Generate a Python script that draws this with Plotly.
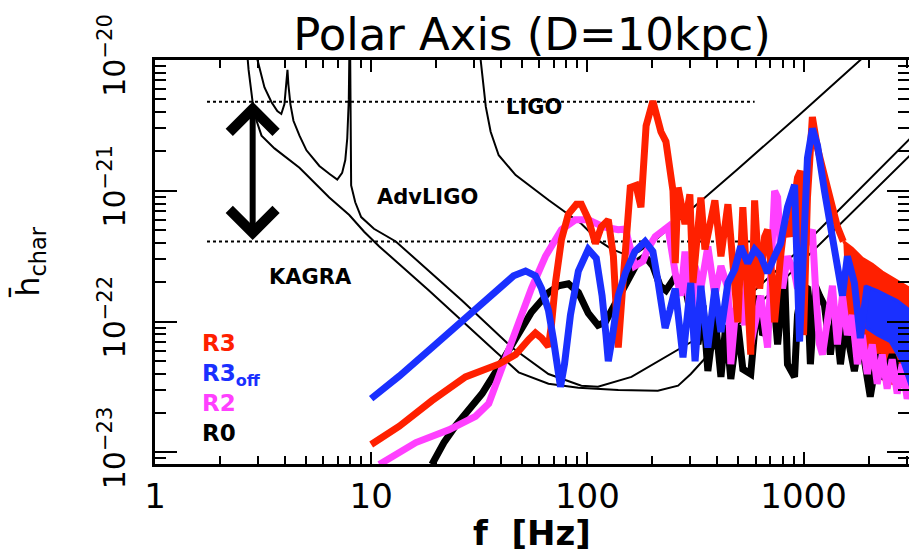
import math
import plotly.graph_objects as go

# ---------------- data ----------------
# Detector sensitivity curves
ligo_f = [31.5, 32.1, 33.9, 35.7, 38.9, 46.6, 66.1, 93.8, 112, 129, 147, 172, 206, 263, 350, 497, 938, 1832, 2193]
ligo_h = [1.68e-20, 1.0e-20, 4.4e-21, 2.83e-21, 1.87e-21, 1.32e-21, 8.5e-22, 5.6e-22, 4.2e-22, 3.6e-22,
          3.3e-22, 3.4e-22, 4.2e-22, 5.9e-22, 8.9e-22, 1.47e-21, 3.7e-21, 1.0e-20, 1.32e-20]

kagra_f = [2.65, 2.71, 2.83, 2.95, 3.11, 3.57, 4.66, 6.40, 7.92, 9.28, 10.9, 18.5, 37.7, 48.1, 66.1, 90.9,
           139, 212, 263, 301, 389, 614, 1161, 3113, 3535]
kagra_h = [1.3e-20, 8.4e-21, 4.75e-21, 3.43e-21, 2.64e-21, 2.11e-21, 1.5e-21, 8.9e-22, 6.53e-22, 4.87e-22,
           3.76e-22, 1.73e-22, 5.9e-23, 4.1e-23, 3.35e-23, 3.12e-23, 3.0e-23, 2.96e-23, 3.24e-23, 3.98e-23,
           6.34e-23, 1.33e-22, 3.76e-22, 1.87e-21, 2.3e-21]

advligo_f = [2.92, 2.98, 3.21, 3.46, 3.68, 3.84, 3.97, 4.06, 4.10, 4.14, 4.23, 4.37, 4.66, 5.02, 5.76,
             6.40, 6.97, 7.34, 7.59, 7.75, 7.88, 7.92, 7.96, 8.0, 8.08, 8.44, 8.99, 10.3, 13.0, 18.5,
             26.3, 44.8, 66.1, 93.8, 112, 160, 271, 325, 497, 938, 3113, 3535]
advligo_h = [1.41e-20, 1.0e-20, 6.17e-21, 4.76e-21, 4.07e-21, 3.87e-21, 4.6e-21, 6.5e-21, 8.4e-21, 6.5e-21,
             4.6e-21, 3.43e-21, 2.64e-21, 2.04e-21, 1.55e-21, 1.35e-21, 1.22e-21, 1.37e-21, 1.72e-21,
             2.51e-21, 5.0e-21, 1.0e-20, 1.41e-20, 1.0e-20, 1.1e-21, 8.17e-22, 6.3e-22, 5.13e-22, 4.1e-22,
             2.44e-22, 1.45e-22, 6.34e-23, 3.98e-23, 3.24e-23, 3.18e-23, 3.78e-23, 6.34e-23, 7.5e-23,
             1.33e-22, 3.44e-22, 2.51e-21, 3.09e-21]

# Signal spectra
r0_f = [19.1, 21.7, 24.5, 28.3, 32.6, 38.9, 46.6, 55.1, 66.1, 73.5, 81.7, 90.9, 101, 112, 121, 132, 150,
        172, 185, 201, 217, 231, 255, 283, 308, 325, 343, 361, 389, 415, 437, 461, 497, 524, 570, 614,
        647, 682, 720, 759, 817, 843, 909, 938, 989, 1043, 1076, 1135, 1186, 1250, 1331, 1403, 1482,
        1562, 1719, 1832, 2036, 2193, 2362, 2572, 2860, 3113]
r0_h = [8.1e-24, 1.19e-23, 1.59e-23, 2.17e-23, 2.82e-23, 4.49e-23, 7.5e-23, 1.18e-22, 1.67e-22, 1.88e-22,
        1.95e-22, 1.67e-22, 1.16e-22, 9.4e-23, 9.9e-23, 1.29e-22, 1.88e-22, 2.9e-22, 3.16e-22, 2.66e-22,
        1.88e-22, 1.73e-22, 2.2e-22, 1.88e-22, 9.4e-23, 6.7e-23, 1.33e-22, 4.19e-23, 1.12e-22, 3.78e-23,
        9.4e-23, 3.65e-23, 9.4e-23, 4.34e-23, 3.98e-23, 1.58e-22, 7.9e-23, 8.95e-23, 1.88e-22, 6.7e-23,
        2.36e-22, 4.73e-23, 3.78e-23, 1.12e-22, 1.88e-22, 1.79e-22, 4.73e-23, 1.88e-22, 1.58e-22,
        1.33e-22, 5.6e-23, 1.12e-22, 4.73e-23, 9.4e-23, 4.19e-23, 7.9e-23, 2.67e-23, 5.6e-23, 3.65e-23,
        5.6e-23, 3.35e-23, 3.98e-23]

r2_f = [10.9, 13.5, 16.1, 22.9, 30.4, 35.0, 38.9, 46.6, 55.1, 64.0, 68.2, 75.9, 88.0, 101, 119, 139, 150,
        166, 181, 191, 206, 236, 255, 271, 283, 301, 315, 335, 361, 389, 415, 447, 461, 497, 535, 552,
        570, 594, 634, 682, 720, 735, 759, 800, 843, 909, 938, 989, 1043, 1099, 1135, 1186, 1224, 1291,
        1361, 1435, 1514, 1596, 1683, 1774, 1871, 1972, 2080, 2193, 2313, 2438, 2572, 2712, 2860, 3016, 3113]
r2_h = [8.1e-24, 1.0e-23, 1.19e-23, 1.49e-23, 1.89e-23, 2.37e-23, 3.78e-23, 8.95e-23, 1.79e-22, 3.16e-22,
        3.76e-22, 5.04e-22, 6.0e-22, 6.0e-22, 5.3e-22, 5.04e-22, 5.1e-22, 2.66e-22, 2.9e-22, 3.63e-22,
        4.47e-22, 5.3e-22, 2.36e-22, 1.58e-22, 3.44e-22, 9.4e-23, 2.66e-22, 1.79e-22, 3.76e-22, 1.58e-22,
        2.66e-22, 1.79e-22, 4.73e-23, 1.88e-22, 9.4e-23, 3.16e-22, 6.7e-23, 9.9e-23, 1.58e-22, 6.34e-23,
        3.76e-22, 1.0e-21, 8.9e-22, 1.79e-22, 3.16e-22, 2.36e-22, 1.79e-22, 3.16e-22, 4.24e-22, 5.04e-22,
        1.88e-22, 6.7e-23, 5.6e-23, 9.4e-23, 1.88e-22, 6.7e-23, 1.58e-22, 7.9e-23, 1.12e-22, 4.73e-23,
        7.9e-23, 3.98e-23, 6.7e-23, 3.35e-23, 5.6e-23, 3.07e-23, 5.15e-23, 2.82e-23, 4.73e-23, 2.58e-23,
        3.07e-23]

r3_f = [10.0, 13.5, 19.1, 27.3, 38.9, 46.6, 53.5, 57.5, 61.4, 66.1, 68.2, 71.2, 75.9, 81.7, 89.0, 93.8,
        101, 109, 116, 125, 132, 139, 147, 158, 168, 177, 187, 201, 219, 231, 249, 255, 263, 283, 298,
        308, 335, 350, 389, 415, 447, 471, 497, 524, 552, 570, 594, 627, 661, 682, 720, 735, 783, 817,
        861, 909, 938, 968, 1000, 1043, 1099, 1161, 1250, 1331, 1435, 1528]
r3_h = [1.15e-23, 1.59e-23, 2.49e-23, 3.78e-23, 4.73e-23, 5.6e-23, 7.3e-23, 8.2e-23, 7.5e-23, 6.45e-23,
        9.4e-23, 1.98e-22, 4.24e-22, 6.64e-22, 7.9e-22, 7.9e-22, 6.1e-22, 3.95e-22, 5.3e-22, 6.0e-22,
        3.16e-22, 6.34e-23, 2.24e-22, 1.06e-21, 1.1e-21, 7.5e-22, 3.14e-21, 4.84e-21, 2.83e-21, 2.38e-21,
        1.0e-21, 2.8e-22, 1.06e-21, 5.58e-22, 9.4e-22, 1.98e-22, 8.9e-22, 3.57e-22, 8.45e-22, 3.16e-22,
        7.9e-22, 3.05e-22, 9.9e-23, 7.5e-22, 1.88e-22, 5.6e-23, 8.45e-22, 1.79e-22, 4.47e-22, 5.04e-22,
        1.88e-22, 9.9e-23, 3.16e-22, 5.58e-22, 4.47e-22, 8.9e-22, 1.26e-21, 1.42e-21, 7.9e-23, 8.9e-22,
        3.67e-21, 2.11e-21, 1.26e-21, 8.17e-22, 5.3e-22, 4.1e-22]
# high-frequency R3 envelope (upper edge left->right, lower edge right->left)
r3_band_f = [1528, 1683, 1871, 2080, 2313, 2572, 2860, 3113, 3352, 3352, 3113, 2438, 2080, 1774, 1596]
r3_band_h = [4.1e-22, 3.63e-22, 3.05e-22, 2.75e-22, 2.4e-22, 2.16e-22, 1.95e-22, 1.79e-22, 1.7e-22,
             2.96e-23, 3.07e-23, 3.46e-23, 4.11e-23, 5.6e-23, 8.65e-23]

r3off_f = [10.0, 13.5, 19.1, 27.3, 38.9, 45.6, 51.8, 57.5, 61.4, 66.1, 69.7, 72.7, 75.1, 78.4, 83.5, 90.9,
           101, 110, 117, 122, 125, 130, 139, 150, 166, 185, 201, 212, 229, 241, 255, 277, 301, 315, 335,
           361, 389, 415, 447, 481, 512, 552, 594, 634, 682, 735, 783, 843, 909, 959, 1011, 1043, 1099,
           1161, 1250, 1331, 1435, 1514, 1596, 1719, 1832, 1972]
r3off_h = [2.58e-23, 3.84e-23, 6.34e-23, 1.08e-22, 1.79e-22, 2.24e-22, 2.44e-22, 2.24e-22, 1.79e-22,
           1.22e-22, 7.3e-23, 4.34e-23, 3.18e-23, 4.73e-23, 1.12e-22, 2.44e-22, 3.57e-22, 3.05e-22,
           1.58e-22, 7.9e-23, 4.98e-23, 7.3e-23, 1.58e-22, 2.36e-22, 3.44e-22, 4.1e-22, 3.44e-22, 2.05e-22,
           8.95e-23, 1.22e-22, 1.79e-22, 5.33e-23, 1.98e-22, 4.98e-23, 1.88e-22, 6.34e-23, 1.79e-22,
           8.35e-23, 1.98e-22, 2.52e-22, 3.76e-22, 2.8e-22, 3.57e-22, 3.16e-22, 2.36e-22, 3.16e-22,
           3.95e-22, 7.5e-22, 1.11e-21, 7.03e-23, 8.45e-22, 1.78e-21, 2.99e-21, 2.22e-21, 1.0e-21,
           5.58e-22, 2.36e-22, 1.58e-22, 3.16e-22, 1.98e-22, 7.5e-23, 1.88e-22]
r3off_band_f = [1931, 2193, 2438, 2712, 3113, 3352, 3352, 3113, 2860, 2518, 2193, 1931]
r3off_band_h = [1.88e-22, 1.73e-22, 1.58e-22, 1.45e-22, 1.22e-22, 1.16e-22,
                2.96e-23, 3.24e-23, 4.9e-23, 7.03e-23, 7.9e-23, 9.1e-23]

# Reference levels (dotted) and the arrow between them
ref_levels = [4.8e-21, 4.1e-22]
ref_f_span = [1.74, 594]
arrow_f = 2.83

# Axis ticks
x_tickvals = [1, 10, 100, 1000]
x_ticktext = ["1", "10", "100", "1000"]
y_tickvals = [1e-23, 1e-22, 1e-21, 1e-20]
y_ticktext = ["10<sup>\u221223</sup>", "10<sup>\u221222</sup>", "10<sup>\u221221</sup>", "10<sup>\u221220</sup>"]

# Legend entries (label, colour)
RED, BLUE, MAGENTA = "#ff2000", "#1a30ff", "#ff40ff"
legend_labels = ["R3", "R3<sub>off</sub>", "R2", "R0"]
legend_colors = [RED, BLUE, MAGENTA, "black"]

# ---------------- figure ----------------
FONT = "DejaVu Sans"
fig = go.Figure()

for lvl in ref_levels:
    fig.add_trace(go.Scatter(x=ref_f_span, y=[lvl, lvl], mode="lines",
                             line=dict(color="black", width=2, dash="dot"), hoverinfo="skip"))

for fx, hy in [(ligo_f, ligo_h), (advligo_f, advligo_h), (kagra_f, kagra_h)]:
    fig.add_trace(go.Scatter(x=fx, y=hy, mode="lines", line=dict(color="black", width=2)))

fig.add_trace(go.Scatter(x=r3_band_f, y=r3_band_h, mode="lines", fill="toself", fillcolor=RED,
                         line=dict(color=RED, width=3)))
fig.add_trace(go.Scatter(x=r0_f, y=r0_h, mode="lines", line=dict(color="black", width=7)))
fig.add_trace(go.Scatter(x=r2_f, y=r2_h, mode="lines", line=dict(color=MAGENTA, width=7)))
fig.add_trace(go.Scatter(x=r3_f, y=r3_h, mode="lines", line=dict(color=RED, width=7)))
fig.add_trace(go.Scatter(x=r3off_band_f, y=r3off_band_h, mode="lines", fill="toself", fillcolor=BLUE,
                         line=dict(color=BLUE, width=3)))
fig.add_trace(go.Scatter(x=r3off_f, y=r3off_h, mode="lines", line=dict(color=BLUE, width=7)))

minor_x = [m * 10 ** k for k in range(0, 4) for m in range(2, 10)]
minor_y = [m * 10 ** k for k in range(-24, -20) for m in range(2, 10)]

fig.update_xaxes(type="log", range=[0, 3.488], tickmode="array", tickvals=x_tickvals, ticktext=x_ticktext,
                 ticks="inside", ticklen=12, tickwidth=2, tickcolor="black",
                 showline=True, linewidth=3, linecolor="black", mirror="ticks", showgrid=False, zeroline=False,
                 tickfont=dict(family=FONT, size=34, color="black"),
                 minor=dict(tickmode="array", tickvals=minor_x, ticks="inside", ticklen=8, tickwidth=2,
                            tickcolor="black", showgrid=False),
                 title=dict(text="f  [Hz]", font=dict(family=FONT, size=34, color="black", weight="bold"),
                            standoff=8))
fig.update_yaxes(type="log", range=[-23.088, -20], tickmode="array", tickvals=y_tickvals, ticktext=y_ticktext,
                 ticks="inside", ticklen=22, tickwidth=2, tickcolor="black", tickangle=-90,
                 ticklabelstandoff=15,
                 showline=True, linewidth=3, linecolor="black", mirror="ticks", showgrid=False, zeroline=False,
                 tickfont=dict(family=FONT, size=30, color="black"),
                 minor=dict(tickmode="array", tickvals=minor_y, ticks="inside", ticklen=11, tickwidth=2,
                            tickcolor="black", showgrid=False),
                 title=dict(text="h\u0304<sub>char</sub>", font=dict(family=FONT, size=32, color="black"),
                            standoff=46))

annotations = [
    dict(text="<b>LIGO</b>", x=0.502, y=0.883),
    dict(text="<b>AdvLIGO</b>", x=0.361, y=0.660),
    dict(text="<b>KAGRA</b>", x=0.206, y=0.464),
]
for a in annotations:
    fig.add_annotation(text=a["text"], x=a["x"], y=a["y"], xref="paper", yref="paper", showarrow=False,
                       xanchor="center", yanchor="middle",
                       font=dict(family=FONT, size=21, color="black"))

legend_text = "<br>".join("<span style='color:%s'><b>%s</b></span>" % (c, t)
                          for t, c in zip(legend_labels, legend_colors))
fig.add_annotation(text=legend_text, x=0.0594, y=0.336, xref="paper", yref="paper",
                   xanchor="left", yanchor="top", align="left", showarrow=False,
                   font=dict(family=FONT, size=23, color="black"))

fig.add_annotation(x=math.log10(arrow_f), y=math.log10(ref_levels[0]),
                   ax=math.log10(arrow_f), ay=math.log10(ref_levels[1]), xref="x", yref="y",
                   axref="x", ayref="y", showarrow=True, arrowhead=4, startarrowhead=4,
                   arrowside="end+start", arrowwidth=6, arrowsize=1.5, startarrowsize=1.5,
                   arrowcolor="black", text="")

# the page body adds an 8 px offset, so the figure is 8 px smaller than the window
fig.update_layout(
    width=909, height=545,
    margin=dict(l=147, r=5, t=52, b=81),
    paper_bgcolor="white", plot_bgcolor="white",
    showlegend=False,
    title=dict(text="Polar Axis (D=10kpc)", x=0.5, xref="paper", y=1 - 26 / 545, yanchor="middle",
               font=dict(family=FONT, size=45, color="black")),
)

fig.write_html("out.html")
